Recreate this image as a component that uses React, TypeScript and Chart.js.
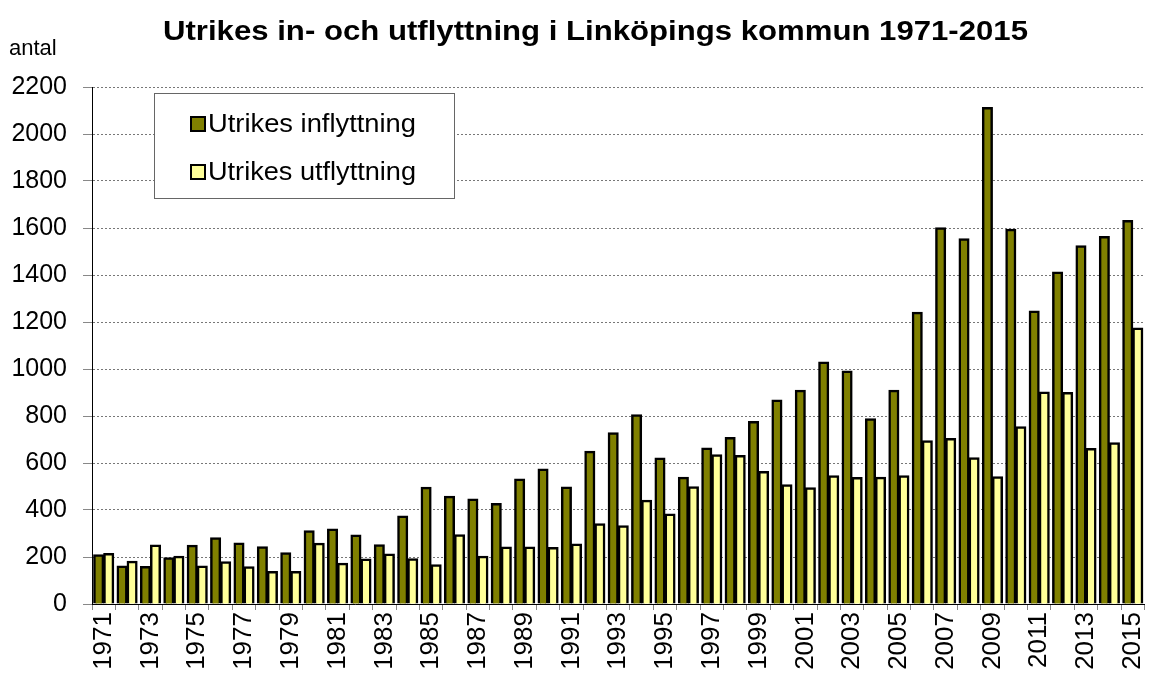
import React, { useEffect, useRef } from "react";
import { Chart, registerables } from "chart.js";

Chart.register(...registerables);

const years: string[] = [];
for (let y = 1971; y <= 2015; y++) years.push(String(y));

const inflyttning = [
  210, 162, 160, 197, 250, 282, 260, 244, 218, 312, 319, 294, 252, 374, 497, 458, 447, 428, 532, 574, 498, 650, 729, 805, 621, 539, 664, 709, 777, 868, 910, 1030, 991, 788, 910, 1242, 1601, 1554, 2113, 1595, 1247, 1413, 1525, 1564, 1632,
];
const utflyttning = [
  215, 182, 251, 203, 162, 180, 159, 138, 138, 258, 173, 191, 213, 193, 167, 295, 203, 243, 243, 240, 255, 342, 333, 441, 383, 499, 635, 632, 564, 507, 495, 546, 538, 539, 546, 695, 704, 622, 541, 754, 902, 900, 662, 686, 1174,
];

const seriesNames = ["Utrikes inflyttning", "Utrikes utflyttning"];
const seriesColors = ["#808000", "#FFFF99"];
const titleText = "Utrikes in- och utflyttning i Linköpings kommun 1971-2015";
const yUnit = "antal";

const FONT = '"Liberation Sans", Arial, sans-serif';

const extrasPlugin = {
  id: "extras",
  afterDraw(chart: any) {
    const ctx = chart.ctx;
    ctx.save();
    ctx.fillStyle = "#000";
    ctx.font = `bold 27px ${FONT}`;
    ctx.textBaseline = "middle";
    ctx.textAlign = "left";
    const tw = ctx.measureText(titleText).width;
    ctx.save();
    ctx.translate(163, 33);
    ctx.scale(865 / tw, 1);
    ctx.fillText(titleText, 0, 0);
    ctx.restore();
    ctx.font = `22px ${FONT}`;
    ctx.textAlign = "left";
    ctx.fillText(yUnit, 9, 49);
    ctx.fillStyle = "#fff";
    ctx.fillRect(154.5, 93.5, 300, 105);
    ctx.strokeStyle = "#666";
    ctx.lineWidth = 1;
    ctx.strokeRect(154.5, 93.5, 300, 105);
    const ys = [124, 172];
    chart.data.datasets.forEach((ds: any, i: number) => {
      ctx.fillStyle = ds.backgroundColor;
      ctx.fillRect(191, ys[i] - 7, 14, 14);
      ctx.strokeStyle = "#000";
      ctx.lineWidth = 2;
      ctx.strokeRect(191, ys[i] - 7, 14, 14);
      ctx.fillStyle = "#000";
      ctx.font = `25px ${FONT}`;
      ctx.textAlign = "left";
      ctx.textBaseline = "middle";
      const w = ctx.measureText(ds.label).width;
      ctx.save();
      ctx.translate(208, ys[i] + 1);
      ctx.scale(208 / w, 1);
      ctx.fillText(ds.label, 0, 0);
      ctx.restore();
    });
    ctx.restore();
  },
};

export default function App() {
  const ref = useRef<HTMLCanvasElement>(null);
  useEffect(() => {
    if (!ref.current) return;
    const chart = new Chart(ref.current, {
      type: "bar",
      data: {
        labels: years,
        datasets: [
          {
            label: seriesNames[0],
            data: inflyttning,
            backgroundColor: seriesColors[0],
            borderColor: "#000",
            borderWidth: 2.5,
            inflateAmount: 0.5,
            categoryPercentage: 0.86,
            barPercentage: 1,
          },
          {
            label: seriesNames[1],
            data: utflyttning,
            backgroundColor: seriesColors[1],
            borderColor: "#000",
            borderWidth: 2.5,
            inflateAmount: 0.5,
            categoryPercentage: 0.86,
            barPercentage: 1,
          },
        ],
      },
      options: {
        animation: false,
        responsive: false,
        maintainAspectRatio: false,
        layout: { padding: { top: 87, right: 2, left: 0, bottom: 0 } },
        plugins: {
          legend: { display: false },
          title: { display: false },
          tooltip: { enabled: false },
        },
        scales: {
          x: {
            grid: {
              offset: true,
              drawOnChartArea: false,
              drawTicks: true,
              tickLength: 6,
              color: "#888",
            },
            border: { display: true, color: "#000", width: 1 },
            ticks: {
              autoSkip: false,
              maxRotation: 90,
              minRotation: 90,
              color: "#000",
              font: { family: FONT, size: 26 },
              padding: 2,
              callback: (_v: any, i: number) => (i % 2 === 0 ? years[i] : ""),
            },
            afterFit: (s: any) => {
              s.height = 74;
            },
          },
          y: {
            min: 0,
            max: 2200,
            ticks: {
              stepSize: 200,
              color: "#000",
              font: { family: FONT, size: 25 },
              padding: 16,
              callback: (v: any) => String(v),
            },
            grid: {
              color: "#777",
              tickLength: 9,
              tickColor: "#888",
            },
            border: { display: true, color: "#000", width: 1, dash: [2, 2] },
            afterFit: (s: any) => {
              s.width = 92;
            },
          },
        },
      },
      plugins: [extrasPlugin],
    });
    return () => chart.destroy();
  }, []);
  return (
    <div style={{ position: "fixed", left: 0, top: 0, width: 1166, height: 678, background: "#fff" }}>
      <canvas ref={ref} width={1166} height={678} style={{ width: 1166, height: 678 }} />
    </div>
  );
}
